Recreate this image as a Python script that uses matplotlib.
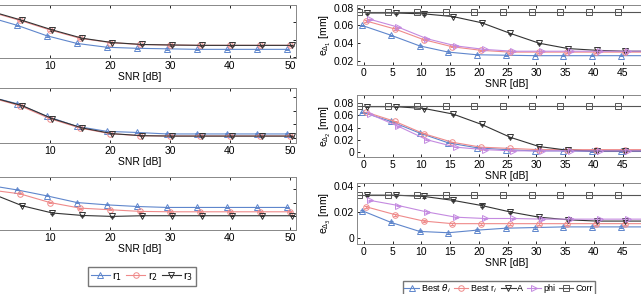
import numpy as np
import matplotlib
matplotlib.use('Agg')
import matplotlib.pyplot as plt
from matplotlib.lines import Line2D

plt.rcParams['font.family'] = ['Liberation Sans', 'DejaVu Sans']
plt.rcParams['font.size'] = 7.5
plt.rcParams['mathtext.fontset'] = 'dejavusans'

snr = np.array([0, 5, 10, 15, 20, 25, 30, 35, 40, 45, 50])

# left column: r1, r2, r3 per panel
r1_top = [0.0333, 0.0283, 0.0222, 0.0178, 0.0156, 0.0150, 0.0147, 0.0144, 0.0144, 0.0144, 0.0144]
r2_top = [0.0361, 0.0311, 0.0256, 0.0208, 0.0183, 0.0172, 0.0169, 0.0167, 0.0167, 0.0167, 0.0167]
r3_top = [0.0361, 0.0311, 0.0256, 0.0208, 0.0183, 0.0172, 0.0169, 0.0167, 0.0167, 0.0167, 0.0167]

r1_mid = [0.0410, 0.0354, 0.0260, 0.0186, 0.0149, 0.0141, 0.0130, 0.0130, 0.0130, 0.0130, 0.0130]
r2_mid = [0.0400, 0.0339, 0.0243, 0.0174, 0.0132, 0.0117, 0.0115, 0.0115, 0.0115, 0.0115, 0.0115]
r3_mid = [0.0400, 0.0339, 0.0243, 0.0174, 0.0132, 0.0117, 0.0114, 0.0114, 0.0114, 0.0114, 0.0114]

r1_bot = [0.0431, 0.0395, 0.0351, 0.0302, 0.0285, 0.0273, 0.0266, 0.0266, 0.0266, 0.0266, 0.0266]
r2_bot = [0.0395, 0.0366, 0.0302, 0.0261, 0.0249, 0.0237, 0.0234, 0.0234, 0.0234, 0.0234, 0.0234]
r3_bot = [0.0366, 0.0278, 0.0225, 0.0207, 0.0200, 0.0205, 0.0205, 0.0205, 0.0205, 0.0205, 0.0205]

# right column: Best theta, Best r, A, phi, Corr
bt_1 = [0.060, 0.049, 0.037, 0.030, 0.027, 0.0265, 0.026, 0.026, 0.026, 0.026, 0.026]
br_1 = [0.065, 0.056, 0.044, 0.036, 0.032, 0.030, 0.030, 0.030, 0.030, 0.030, 0.030]
a_1 = [0.074, 0.074, 0.073, 0.070, 0.063, 0.051, 0.040, 0.034, 0.032, 0.031, 0.031]
phi_1 = [0.067, 0.058, 0.045, 0.037, 0.033, 0.031, 0.031, 0.031, 0.031, 0.031, 0.031]
corr_1 = [0.075, 0.075, 0.075, 0.075, 0.075, 0.075, 0.075, 0.075, 0.075, 0.075, 0.075]

bt_2 = [0.065, 0.050, 0.031, 0.015, 0.007, 0.004, 0.002, 0.002, 0.001, 0.001, 0.001]
br_2 = [0.065, 0.050, 0.030, 0.016, 0.008, 0.006, 0.004, 0.004, 0.004, 0.004, 0.004]
a_2 = [0.074, 0.074, 0.071, 0.062, 0.045, 0.024, 0.009, 0.003, 0.002, 0.002, 0.002]
phi_2 = [0.062, 0.042, 0.020, 0.008, 0.004, 0.002, 0.002, 0.002, 0.002, 0.002, 0.002]
corr_2 = [0.075, 0.075, 0.075, 0.075, 0.075, 0.075, 0.075, 0.075, 0.075, 0.075, 0.075]

bt_3 = [0.021, 0.012, 0.005, 0.004, 0.006, 0.0075, 0.008, 0.0085, 0.0085, 0.0085, 0.0085]
br_3 = [0.024, 0.018, 0.013, 0.011, 0.011, 0.011, 0.011, 0.011, 0.011, 0.011, 0.011]
a_3 = [0.033, 0.033, 0.032, 0.029, 0.025, 0.020, 0.016, 0.014, 0.013, 0.013, 0.013]
phi_3 = [0.029, 0.025, 0.020, 0.016, 0.015, 0.015, 0.0145, 0.0145, 0.0145, 0.0145, 0.0145]
corr_3 = [0.033, 0.033, 0.033, 0.033, 0.033, 0.033, 0.033, 0.033, 0.033, 0.033, 0.033]

blue = '#5f86cc'
red = '#ef8a8a'
black = '#333333'
purple = '#c48ae0'
grey = '#555555'

W, H = 641, 294
fig = plt.figure(figsize=(W / 100, H / 100), dpi=100)


def box(x0, y0, x1, y1):
    return [x0 / W, 1 - y1 / H, (x1 - x0) / W, (y1 - y0) / H]


def style(ax):
    ax.tick_params(direction='in', top=True, right=True, length=2.5, width=0.6, pad=2)
    for s in ax.spines.values():
        s.set_color('#888888')
        s.set_linewidth(0.7)
    ax.set_xlabel('SNR [dB]', labelpad=1)


def series(ax, x, y, c, m, err):
    ax.errorbar(x, y, yerr=err, color=c, marker=m, ms=4, mfc='none', mew=0.7,
                lw=0.8, elinewidth=0.6, capsize=1.5)


def handle(c, m, lab):
    return Line2D([], [], color=c, marker=m, ms=4, mfc='none', mew=0.7, lw=0.8, label=lab)


left = [(5, 58, r1_top, r2_top, r3_top, (0.0094, 0.0389)),
        (88, 143, r1_mid, r2_mid, r3_mid, (0.0063, 0.047)),
        (177, 230, r1_bot, r2_bot, r3_bot, (0.01, 0.049))]
for y0, y1, a, b, c, yl in left:
    ax = fig.add_axes(box(-16, y0, 296, y1))
    series(ax, snr - 0.5, a, blue, '^', 0.0004)
    series(ax, snr, b, red, 'o', 0.0004)
    series(ax, snr + 0.4, c, black, 'v', 0.0004)
    ax.set_xlim(-1, 51)
    ax.set_ylim(*yl)
    # the 0 dB tick falls outside the cropped picture
    ax.set_xticks([10, 20, 30, 40, 50])
    ax.set_yticks([0.01, 0.02, 0.03, 0.04])
    ax.set_yticklabels([])
    style(ax)

left_handles = [handle(blue, '^', r'r$_1$'), handle(red, 'o', r'r$_2$'),
                handle(black, 'v', r'r$_3$')]
fig.legend(handles=left_handles, loc='upper left',
           bbox_to_anchor=(82 / W, 1 - 261 / H), ncol=3, frameon=True,
           fancybox=False, edgecolor='#555555', handlelength=1.7,
           handletextpad=0.2, columnspacing=0.4, borderpad=0.3, fontsize=8)

right = [(5, 65, bt_1, br_1, a_1, phi_1, corr_1, (0.0155, 0.083),
          [0.02, 0.04, 0.06, 0.08], r'e$_{\Delta_1}$ [mm]'),
         (95, 157, bt_2, br_2, a_2, phi_2, corr_2, (-0.008, 0.093),
          [0, 0.02, 0.04, 0.06, 0.08], r'e$_{\Delta_2}$ [mm]'),
         (183, 244, bt_3, br_3, a_3, phi_3, corr_3, (-0.0047, 0.0424),
          [0, 0.02, 0.04], r'e$_{\Delta_3}$ [mm]')]
for y0, y1, bt, br, aa, ph, co, yl, yt, ylab in right:
    ax = fig.add_axes(box(357, y0, 657, y1))
    series(ax, snr - 0.3, bt, blue, '^', 0.0008)
    series(ax, snr + 0.4, br, red, 'o', 0.0008)
    series(ax, snr + 0.5, aa, black, 'v', 0.0008)
    series(ax, snr + 1.0, ph, purple, '>', 0.0005)
    series(ax, snr - 0.8, co, grey, 's', 0.0002)
    ax.set_xlim(-1.2, 51)
    ax.set_ylim(*yl)
    ax.set_xticks(np.arange(0, 50, 5))
    ax.set_yticks(yt)
    ax.set_yticklabels(['0' if v == 0 else '%.2f' % v for v in yt])
    ax.set_ylabel(ylab, labelpad=1)
    style(ax)

right_handles = [handle(blue, '^', r'Best $\theta_i$'), handle(red, 'o', r'Best r$_i$'),
                 handle(black, 'v', 'A'), handle(purple, '>', 'phi'),
                 handle(grey, 's', 'Corr')]
fig.legend(handles=right_handles, loc='upper left',
           bbox_to_anchor=(398 / W, 1 - 276 / H), ncol=5, frameon=True,
           fancybox=False, edgecolor='#555555', handlelength=1.6,
           handletextpad=0.2, columnspacing=0.4, borderpad=0.2, fontsize=6.5)

fig.savefig('out.png', dpi=100)
